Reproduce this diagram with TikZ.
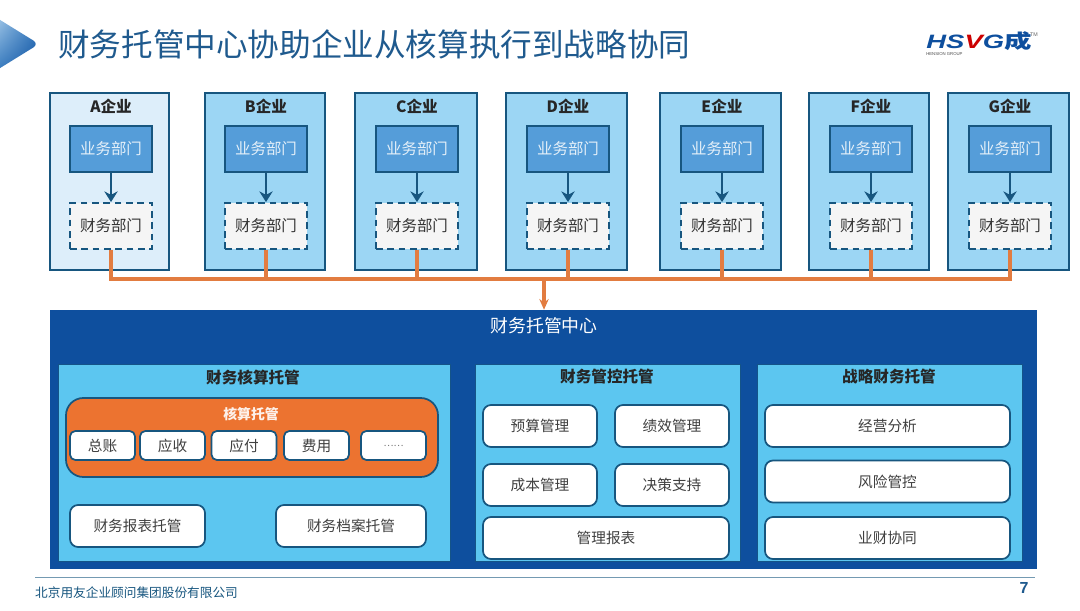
\documentclass[tikz,border=0pt]{standalone}
\usepackage{fontspec}
\setmainfont{Noto Sans CJK SC}
\newfontfamily\logofont{Liberation Sans}
\usetikzlibrary{arrows.meta,positioning,calc,shadings}
\definecolor{lineNavy}{HTML}{17567F}
\definecolor{titleBlue}{HTML}{1F5A8E}
\definecolor{hubBlue}{HTML}{0E4F9E}
\definecolor{panelBlue}{HTML}{5CC6F0}
\definecolor{firmBlue}{HTML}{9CD6F4}
\definecolor{firmPale}{HTML}{DDEEFA}
\definecolor{bizBlue}{HTML}{559DD9}
\definecolor{busOrange}{HTML}{E27C40}
\definecolor{coreOrange}{HTML}{EC7330}
\newcommand{\px}{0.75pt}
\tikzset{
    firmbox/.style={draw=lineNavy, line width=1.5pt, fill=firmBlue, rectangle},
    bizbox/.style={draw=lineNavy, line width=1.6pt, fill=bizBlue, text=white!85!bizBlue,
        minimum width=82*\px, minimum height=46*\px, font=\fontsize{11.6}{13}\selectfont},
    finbox/.style={draw=lineNavy, line width=1.4pt, dash pattern=on 5pt off 3.5pt, fill=white!96!black,
        minimum width=82*\px, minimum height=46*\px, font=\fontsize{11.6}{13}\selectfont, text=black!80},
    panelbox/.style={fill=panelBlue, draw=lineNavy!70!hubBlue, line width=0.6pt, rectangle},
    itembox/.style={draw=lineNavy, line width=1.3pt, fill=white, rounded corners=6pt, text=black!75,
        font=\fontsize{11}{13}\selectfont},
    heading/.style={font=\fontsize{11.7}{13}\selectfont\bfseries, text=black!85},
    flowline/.style={line width=2pt, color=lineNavy, -{Stealth[length=8pt,width=10pt]}},
    busline/.style={line width=2.4pt, color=busOrange}
}
\begin{document}
\begin{tikzpicture}[x=\px, y=-\px]
    \useasboundingbox (0,0) rectangle (1080,610);
    \fill[white] (0,0) rectangle (1080,610);
    % Title and logo
    \shade[upper left=white!55!bizBlue, upper right=bizBlue!60!hubBlue, lower left=bizBlue!60!hubBlue, lower right=hubBlue, rounded corners=5pt]
        (-8,15) -- (39,44) -- (-8,73) -- cycle;
    \node[font=\fontsize{23.7}{27}\selectfont, text=titleBlue, anchor=west, inner sep=0pt] (title) at (58,44)
        {财务托管中心协助企业从核算执行到战略协同};
    \node[font=\logofont\fontsize{14.5}{15}\selectfont\bfseries\itshape, text=hubBlue, inner sep=0pt, anchor=west, xscale=1.42] (logo) at (926,41)
        {HS\textcolor{red!80!black}{V}G\fontspec{Noto Sans CJK SC}成};
    \node[font=\logofont\fontsize{4}{4}\selectfont, text=black!60, inner sep=0pt] (tm) at (1034,35) {TM};
    \node[font=\logofont\fontsize{3.2}{4}\selectfont, text=black!70, inner sep=0pt, anchor=west] (group) at (926,54) {HENSION GROUP};
    % Firms
    \foreach \n/\l/\r/\c/\f in {A/50/169/111/firmPale, B/205/325/266/firmBlue, C/355/477/417/firmBlue,
            D/506/627/568/firmBlue, E/660/781/722/firmBlue, F/809/929/871/firmBlue, G/948/1069/1010/firmBlue} {
        \node[firmbox, fill=\f, minimum width={(\r-\l)*\px}, minimum height=177*\px] (firm\n) at ({(\l+\r)/2},181.5) {};
        \node[heading] (name\n) at (\c,106.5) {\n 企业};
        \node[bizbox] (biz\n) at (\c,149) {业务部门};
        \node[finbox] (fin\n) at (\c,226) {财务部门};
        \draw[flowline] (biz\n) -- (fin\n);
    }
    % Center
    \node[fill=hubBlue, minimum width=987*\px, minimum height=259*\px] (hub) at (543.5,439.5) {};
    \node[font=\fontsize{13.4}{15}\selectfont, text=white, inner sep=0pt] (hubtitle) at (544,326) {财务托管中心};
    \coordinate (bus) at (544,279);
    \foreach \n in {A,B,C,D,E,F,G}
        \draw[busline] (fin\n.south) |- (bus);
    \draw[busline, -{Stealth[length=8pt,width=7pt]}] (bus) -- (hub.north -| bus);
    % Panels
    \node[panelbox, minimum width=392*\px, minimum height=197*\px] (acct) at (254,462.5) {};
    \node[panelbox, minimum width=265*\px, minimum height=197*\px] (ctrl) at (607.5,462.5) {};
    \node[panelbox, minimum width=265*\px, minimum height=197*\px] (strat) at (889.5,462.5) {};
    \node[heading] (acctT) at (253,377) {财务核算托管};
    \node[heading] (ctrlT) at (607,377) {财务管控托管};
    \node[heading] (stratT) at (889,377) {战略财务托管};
    % Accounting group
    \node[draw=lineNavy, line width=1.3pt, fill=coreOrange, rounded corners=13pt,
        minimum width=372*\px, minimum height=79*\px] (core) at (252,437.5) {};
    \node[font=\fontsize{10.4}{12}\selectfont\bfseries, text=white!90!coreOrange] (coreT) at (251,414) {核算托管};
    \foreach \c/\t [count=\i] in {102.5/总账, 172.5/应收, 244/应付, 316.5/费用}
        \node[itembox, rounded corners=4pt, minimum width=65*\px, minimum height=29*\px] (sub\i) at (\c,445.5) {\t};
    \node[itembox, rounded corners=4pt, minimum width=65*\px, minimum height=29*\px, font=\fontsize{7}{8}\selectfont, text=black!55] (sub5) at (393.5,445.5) {……};
    \node[itembox, minimum width=135*\px, minimum height=42*\px] (rep) at (137.5,526) {财务报表托管};
    \node[itembox, minimum width=150*\px, minimum height=42*\px] (arc) at (351,526) {财务档案托管};
    % Control group
    \foreach \c/\y/\t [count=\i] in {540/426/预算管理, 672/426/绩效管理, 540/485/成本管理, 672/485/决策支持}
        \node[itembox, minimum width=114*\px, minimum height=42*\px] (ctl\i) at (\c,\y) {\t};
    \node[itembox, minimum width=246*\px, minimum height=42*\px] (mgr) at (606,538) {管理报表};
    % Strategy group
    \foreach \y/\t [count=\i] in {426/经营分析, 481.5/风险管控, 538/业财协同}
        \node[itembox, minimum width=245*\px, minimum height=42*\px] (str\i) at (887.5,\y) {\t};
    % Footer
    \draw[lineNavy!60, line width=0.5pt] (35,577) -- (1035,577);
    \node[font=\fontsize{9.5}{11}\selectfont, text=lineNavy, inner sep=0pt] (foot) at (136.5,592.5) {北京用友企业顾问集团股份有限公司};
    \node[font=\logofont\fontsize{12}{14}\selectfont\bfseries, text=titleBlue, inner sep=0pt] (page) at (1024,588) {7};
\end{tikzpicture}
\end{document}
